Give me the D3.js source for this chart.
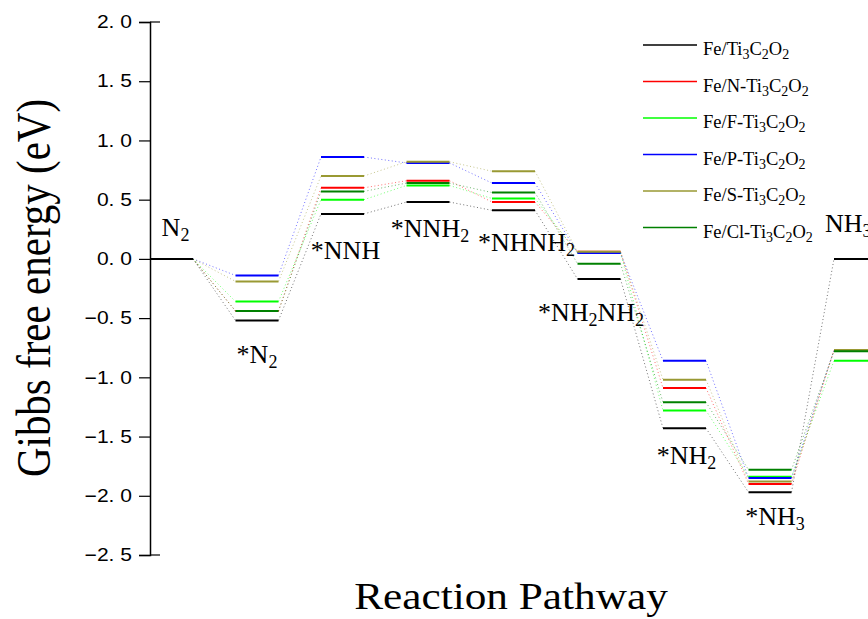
<!DOCTYPE html>
<html><head><meta charset="utf-8">
<script src="https://cdn.jsdelivr.net/npm/d3@7"></script>
<style>body{margin:0;background:#fff}svg{display:block}</style>
</head><body>
<svg id="c" width="868" height="619"></svg>
<script>
// ---- data ----
const steps = ["N2", "*N2", "*NNH", "*NNH2", "*NHNH2", "*NH2NH2", "*NH2", "*NH3", "NH3"];
const seriesNames = ["Fe/Ti3C2O2", "Fe/N-Ti3C2O2", "Fe/F-Ti3C2O2", "Fe/P-Ti3C2O2", "Fe/S-Ti3C2O2", "Fe/Cl-Ti3C2O2"];
const black   = [0, -0.52, 0.38, 0.48, 0.41, -0.17, -1.43, -1.97, 0.00];
const red     = [0, -0.44, 0.60, 0.66, 0.48, 0.06, -1.09, -1.90, -0.77];
const green   = [0, -0.36, 0.50, 0.62, 0.51, 0.05, -1.28, -1.84, -0.86];
const blue    = [0, -0.14, 0.86, 0.81, 0.64, 0.05, -0.86, -1.85, -0.77];
const olive   = [0, -0.19, 0.70, 0.82, 0.74, 0.06, -1.02, -1.88, -0.77];
const dkgreen = [0, -0.44, 0.57, 0.64, 0.56, -0.04, -1.21, -1.78, -0.78];
const yTicks = [2.0, 1.5, 1.0, 0.5, 0.0, -0.5, -1.0, -1.5, -2.0, -2.5];

const seriesValues = [black, red, green, blue, olive, dkgreen];
const colors = ["#000000", "#ff0000", "#00ff00", "#0000ff", "#999933", "#008000"];
const drawOrder = [1, 2, 3, 4, 5, 0];

// label layout (offset from level centre, baseline y in px, anchor)
const labelLayout = [
  {dx: 4, y: 236, a: "middle"}, {dx: 0, y: 363, a: "middle"}, {dx: 3, y: 259, a: "middle"},
  {dx: 2, y: 237, a: "middle"}, {dx: 13, y: 251, a: "middle"}, {dx: -8, y: 321, a: "middle"},
  {dx: 2, y: 464, a: "middle"}, {dx: 5, y: 525, a: "middle"}, {dx: -9, y: 232, a: "start"}
];

const svg = d3.select("#c");
const y = d3.scaleLinear().domain([-2.5, 2.0]).range([555, 22]);
const x = d3.scaleLinear().domain([0, steps.length - 1]).range([150, 834]);
const W = 43;
const SX = 1.17; // horizontal stretch of the original's axis lettering

// axis
const axis = d3.axisLeft(y).tickValues(yTicks).tickSize(11).tickPadding(7)
  .tickFormat(d => d3.format(".1f")(d).replace(".", ". ").replace("-", "\u2212"));
const gA = svg.append("g").attr("transform", "translate(150,0)").call(axis);
gA.attr("font-size", null);
gA.select(".domain").attr("stroke", "#000").attr("stroke-width", 1.5);
gA.selectAll(".tick line").attr("stroke", "#000").attr("stroke-width", 1.2);
gA.selectAll(".tick text").each(function () {
  const t = d3.select(this);
  const xx = +t.attr("x");
  t.attr("x", 0).attr("transform", `translate(${xx},0) scale(${SX},1)`);
}).attr("font-family", "Liberation Sans, Arial, sans-serif")
  .style("font-size", "18px").attr("fill", "#000");
// end caps extending to the right at the first and last ticks
[yTicks[0], yTicks[yTicks.length - 1]].forEach(v => {
  svg.append("line").attr("x1", 150).attr("x2", 160).attr("y1", y(v)).attr("y2", y(v))
    .attr("stroke", "#000").attr("stroke-width", 1.2);
});

// connectors
drawOrder.forEach(si => {
  const vals = seriesValues[si];
  for (let i = 0; i < vals.length - 1; i++) {
    svg.append("line")
      .attr("x1", x(i) + W).attr("y1", y(vals[i]))
      .attr("x2", x(i + 1)).attr("y2", y(vals[i + 1]))
      .attr("stroke", colors[si]).attr("stroke-width", 1)
      .attr("stroke-dasharray", "1,2.5").attr("opacity", 0.55);
  }
});
// levels
drawOrder.forEach(si => {
  seriesValues[si].forEach((v, i) => {
    svg.append("line")
      .attr("x1", x(i)).attr("x2", x(i) + W)
      .attr("y1", y(v)).attr("y2", y(v))
      .attr("stroke", colors[si]).attr("stroke-width", 2);
  });
});

// text with subscripts
function richText(sel, str, subSize) {
  const parts = str.match(/[A-Za-z*\/\-]+|\d+/g);
  parts.forEach(p => {
    if (/^\d+$/.test(p)) {
      sel.append("tspan").attr("baseline-shift", "-30%").attr("font-size", subSize).text(p);
    } else {
      sel.append("tspan").text(p);
    }
  });
}

steps.forEach((s, i) => {
  const L = labelLayout[i];
  const t = svg.append("text")
    .attr("x", L.a === "start" ? x(i) + L.dx : x(i) + W / 2 + L.dx).attr("y", L.y)
    .attr("text-anchor", L.a)
    .attr("font-family", "Liberation Serif, Times New Roman, serif")
    .attr("font-size", 26).attr("fill", "#000");
  richText(t, s, 18);
});

// legend
const lg = svg.append("g");
seriesNames.forEach((n, i) => {
  const ly = 45 + i * 36.5;
  lg.append("line").attr("x1", 643).attr("x2", 697).attr("y1", ly).attr("y2", ly)
    .attr("stroke", colors[i]).attr("stroke-width", 1.5);
  const t = lg.append("text").attr("x", 703).attr("y", ly + 10)
    .attr("font-family", "Liberation Serif, Times New Roman, serif")
    .attr("font-size", 18.5).attr("fill", "#000");
  richText(t, n, 14);
});

// axis titles
svg.append("text").attr("transform", `translate(50,288) rotate(-90) scale(1,${SX})`)
  .attr("text-anchor", "middle")
  .attr("font-family", "Liberation Serif, Times New Roman, serif")
  .attr("font-size", 41).attr("fill", "#000").text("Gibbs free energy (eV)");
svg.append("text").attr("transform", `translate(511,609) scale(${SX},1)`)
  .attr("text-anchor", "middle")
  .attr("font-family", "Liberation Serif, Times New Roman, serif")
  .attr("font-size", 37).attr("fill", "#000").text("Reaction Pathway");
</script>
</body></html>
